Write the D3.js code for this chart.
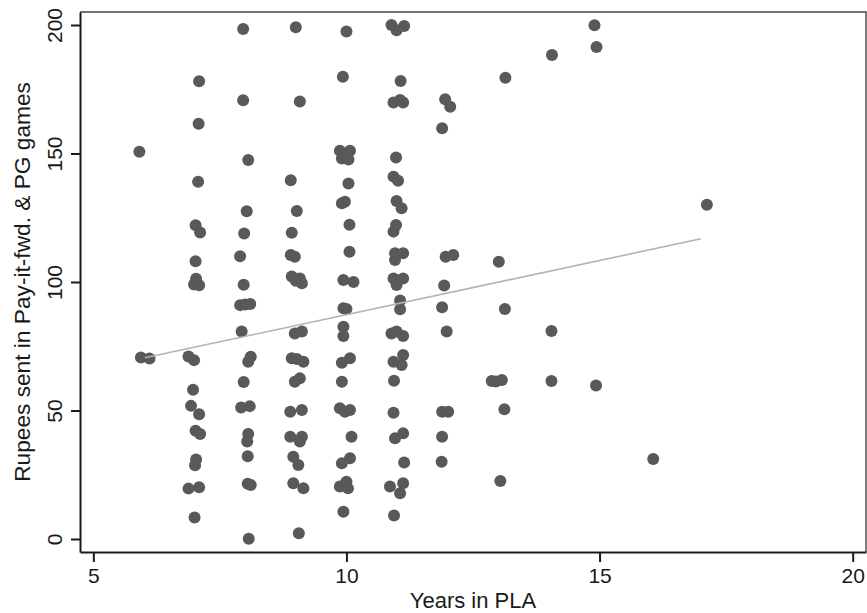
<!DOCTYPE html>
<html>
<head>
<meta charset="utf-8">
<script src="https://cdn.jsdelivr.net/npm/d3@7"></script>
<style>
  body { margin: 0; background: #fff; }
  svg { display: block; font-family: "Liberation Sans", Arial, sans-serif; }
  .axis text { font-size: 21px; fill: #1a1a1a; }
  .axis path, .axis line { stroke: #1a1a1a; stroke-width: 2; }
  .title { font-size: 22px; fill: #1a1a1a; }
  .title.y { font-size: 22.7px; }
</style>
</head>
<body>
<div id="chart"></div>
<script>
// years in PLA (jittered as in the source plot) and rupees sent
var pla = [
  5.91, 5.94, 6.11,
  7.09, 7.08, 7.07, 7.02, 7.11, 7.02, 7.03, 7.09, 6.99,
  6.88, 6.99, 6.97, 6.93, 7.09, 7.02, 7.11, 7.03, 7.01, 6.88, 7.09, 7.00,
  7.96, 7.96, 8.06, 8.03, 7.98, 7.90, 7.97,
  7.90, 8.00, 8.10, 7.93, 8.11, 8.06, 7.97, 7.92, 8.09, 8.06, 8.04, 8.05, 8.05, 8.11, 8.07,
  9.00, 9.08, 8.90, 9.02, 8.92, 8.90, 8.98, 8.92, 9.08, 9.12, 9.00,
  8.98, 9.12, 8.92, 9.15, 9.02, 8.98, 9.08, 8.89, 9.12, 8.89, 9.12, 9.08, 8.95, 9.05, 8.95, 9.15, 9.06,
  10.00, 9.93, 9.87, 10.07, 9.91, 10.04, 10.04, 9.91, 9.97, 10.06, 10.06, 9.94, 10.14,
  9.94, 10.00, 9.94, 9.94, 9.91, 10.07, 9.91, 9.87, 10.07, 9.97, 10.10, 9.91, 10.07, 9.87, 10.00, 10.03, 9.94,
  10.89, 10.99, 11.14, 11.07, 10.93, 11.12, 11.06, 10.98, 10.93, 11.02, 10.99, 11.09, 10.98, 10.93,
  10.96, 11.12, 10.96, 10.93, 11.12, 10.99, 11.06, 11.06,
  10.89, 11.12, 10.99, 10.93, 11.12, 11.09, 10.94, 10.93, 10.96, 11.12, 11.14, 10.86, 11.12, 11.06, 10.94,
  11.95, 12.05, 11.89, 11.96, 12.11, 11.93, 11.89, 11.98, 11.89, 12.01, 11.89, 11.88,
  13.14, 13.01, 13.13, 12.87, 13.07, 12.95, 13.12, 13.04,
  14.06, 14.05, 14.05,
  14.90, 14.94, 14.93,
  16.06,
  17.12
];
var rupees = [
  150.7, 70.6, 70.2,
  178.1, 161.6, 139.0, 122.1, 119.3, 108.1, 101.3, 98.7, 99.0,
  71.0, 69.6, 58.1, 51.8, 48.5, 42.1, 40.9, 30.9, 28.7, 19.6, 20.1, 8.4,
  198.4, 170.7, 147.5, 127.5, 118.9, 110.0, 98.9,
  91.0, 91.2, 91.4, 80.7, 70.9, 69.0, 61.1, 51.2, 51.7, 40.9, 37.9, 32.2, 21.5, 21.0, 0.1,
  199.1, 170.2, 139.6, 127.6, 119.2, 110.5, 109.8, 102.1, 101.4, 99.5, 100.5,
  80.0, 80.7, 70.3, 69.0, 70.0, 61.2, 62.5, 49.5, 50.2, 39.8, 39.8, 37.9, 32.0, 28.8, 21.7, 19.7, 2.2,
  197.5, 179.9, 151.1, 151.1, 148.1, 147.7, 138.3, 130.6, 131.2, 122.3, 111.8, 100.8, 100.0,
  89.8, 89.5, 82.6, 79.0, 68.6, 70.3, 61.2, 50.9, 50.2, 49.5, 39.8, 29.5, 31.4, 20.4, 22.3, 19.7, 10.6,
  200.0, 198.0, 199.6, 178.2, 169.8, 169.8, 170.8, 148.4, 141.0, 139.4, 131.5, 128.7, 122.2, 119.6,
  111.2, 111.2, 108.6, 101.4, 101.4, 98.8, 92.8, 89.4,
  80.0, 79.0, 80.7, 69.0, 71.6, 67.7, 61.6, 49.1, 39.2, 41.1, 29.8, 20.4, 21.7, 17.8, 9.1,
  171.1, 168.2, 159.8, 109.8, 110.5, 98.6, 90.2, 80.7, 49.5, 49.5, 39.8, 30.1,
  179.5, 107.9, 89.5, 61.5, 61.9, 61.3, 50.5, 22.6,
  188.3, 80.9, 61.5,
  199.9, 191.4, 59.7,
  31.1,
  130.1
];
// fitted line end points
var fitX = [6.02, 17.0];
var fitY = [70.5, 116.8];

var xTicks = [5, 10, 15, 20];
var yTicks = [0, 50, 100, 150, 200];

var width = 867, height = 613;
var plotLeft = 80, plotRight = 866, plotTop = 12, plotBottom = 552;

var xScale = d3.scaleLinear().domain([4.737, 20.263]).range([plotLeft, plotRight]);
var yScale = d3.scaleLinear().domain([-5.06, 205.06]).range([plotBottom, plotTop]);

var svg = d3.select("#chart").append("svg")
  .attr("width", width)
  .attr("height", height);

// frame (top and right)
svg.append("path")
  .attr("d", "M" + plotLeft + "," + plotTop + "H" + plotRight + "V" + plotBottom)
  .attr("fill", "none")
  .attr("stroke", "#444")
  .attr("stroke-width", 1.4);

// points
svg.append("g").selectAll("circle")
  .data(pla)
  .enter()
  .append("circle")
  .attr("cx", function(d) { return xScale(d); })
  .attr("cy", function(d, i) { return yScale(rupees[i]); })
  .attr("r", 6)
  .attr("fill", "#58595b");

// fitted line
var fit = fitX.map(function(d, i) { return [d, fitY[i]]; });
svg.append("path")
  .datum(fit)
  .attr("d", d3.line()
    .x(function(d) { return xScale(d[0]); })
    .y(function(d) { return yScale(d[1]); }))
  .attr("fill", "none")
  .attr("stroke", "#b3b3b3")
  .attr("stroke-width", 1.6);

// x axis
svg.append("g")
  .attr("class", "axis")
  .attr("transform", "translate(0," + plotBottom + ")")
  .call(d3.axisBottom(xScale).tickValues(xTicks).tickSize(10).tickSizeOuter(0).tickPadding(6))
  .selectAll("text").attr("fill", "#1a1a1a");

// y axis, labels rotated
svg.append("g")
  .attr("class", "axis")
  .attr("transform", "translate(" + plotLeft + ",0)")
  .call(d3.axisLeft(yScale).tickValues(yTicks).tickSize(9).tickSizeOuter(0))
  .selectAll("text")
    .attr("x", 0)
    .attr("y", -18)
    .attr("dy", 0)
    .style("text-anchor", "middle")
    .attr("transform", "rotate(-90)");

// titles
svg.append("text")
  .attr("class", "title")
  .attr("x", (plotLeft + plotRight) / 2)
  .attr("y", 608)
  .attr("text-anchor", "middle")
  .text("Years in PLA");

svg.append("text")
  .attr("class", "title y")
  .attr("transform", "translate(29.5," + (plotTop + plotBottom) / 2 + ") rotate(-90)")
  .attr("text-anchor", "middle")
  .text("Rupees sent in Pay-it-fwd. & PG games");
</script>
</body>
</html>
